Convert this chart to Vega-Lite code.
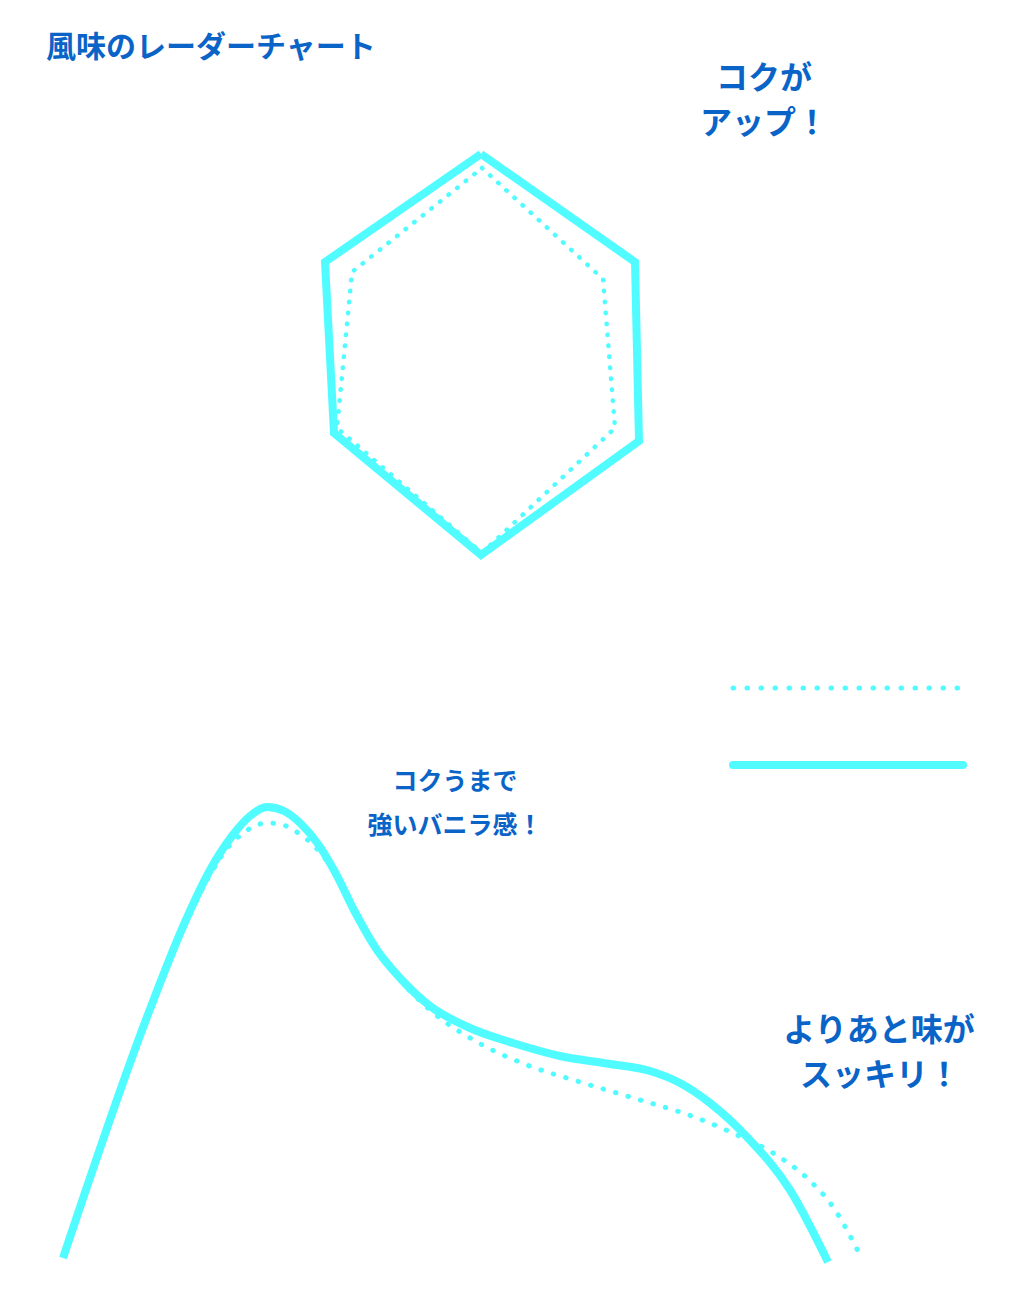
{
  "$schema": "https://vega.github.io/schema/vega-lite/v6.json",
  "width": 1014,
  "height": 1316,
  "autosize": {"type": "fit", "contains": "padding"},
  "padding": 0,
  "background": "white",
  "config": {"view": {"stroke": null}},
  "encoding": {
    "x": {"field": "x", "type": "quantitative", "scale": {"domain": [0, 1014], "nice": false, "zero": false}, "axis": null},
    "y": {"field": "y", "type": "quantitative", "scale": {"domain": [0, 1316], "nice": false, "zero": false, "reverse": true}, "axis": null}
  },
  "layer": [
    {
      "data": {"values": [
        {"i": 0, "x": 481, "y": 154},
        {"i": 1, "x": 635, "y": 262},
        {"i": 2, "x": 639, "y": 441},
        {"i": 3, "x": 481, "y": 555},
        {"i": 4, "x": 334, "y": 433},
        {"i": 5, "x": 325, "y": 262},
        {"i": 6, "x": 481, "y": 154}
      ]},
      "mark": {"type": "line", "color": "#50fcff", "strokeWidth": 8, "strokeJoin": "miter"},
      "encoding": {"order": {"field": "i", "type": "quantitative"}}
    },
    {
      "data": {"values": [
        {"i": 0, "x": 482, "y": 168},
        {"i": 1, "x": 603, "y": 279},
        {"i": 2, "x": 615, "y": 428},
        {"i": 3, "x": 482, "y": 553},
        {"i": 4, "x": 337, "y": 428},
        {"i": 5, "x": 352, "y": 272},
        {"i": 6, "x": 482, "y": 168}
      ]},
      "mark": {"type": "line", "color": "#50fcff", "strokeWidth": 4.5, "strokeCap": "round", "strokeDash": [0.5, 10.5]},
      "encoding": {"order": {"field": "i", "type": "quantitative"}}
    },
    {
      "data": {"values": [
        {"x": 63, "y": 1258},
        {"x": 147, "y": 1017},
        {"x": 185, "y": 922},
        {"x": 210, "y": 870},
        {"x": 232, "y": 836},
        {"x": 250, "y": 816},
        {"x": 267, "y": 807},
        {"x": 284, "y": 811},
        {"x": 301, "y": 824},
        {"x": 318, "y": 844},
        {"x": 335, "y": 872},
        {"x": 355, "y": 912},
        {"x": 377, "y": 950},
        {"x": 400, "y": 978},
        {"x": 430, "y": 1006},
        {"x": 470, "y": 1028},
        {"x": 513, "y": 1043},
        {"x": 560, "y": 1056},
        {"x": 610, "y": 1064},
        {"x": 650, "y": 1071},
        {"x": 680, "y": 1083},
        {"x": 710, "y": 1103},
        {"x": 747, "y": 1137},
        {"x": 790, "y": 1190},
        {"x": 828, "y": 1262}
      ]},
      "mark": {"type": "line", "color": "#50fcff", "strokeWidth": 8, "interpolate": "monotone"}
    },
    {
      "data": {"values": [
        {"x": 185, "y": 926},
        {"x": 205, "y": 884},
        {"x": 226, "y": 850},
        {"x": 246, "y": 831},
        {"x": 257, "y": 825},
        {"x": 267, "y": 823},
        {"x": 280, "y": 824},
        {"x": 295, "y": 831},
        {"x": 318, "y": 850},
        {"x": 338, "y": 878},
        {"x": 358, "y": 916},
        {"x": 378, "y": 952},
        {"x": 400, "y": 980},
        {"x": 430, "y": 1010},
        {"x": 477, "y": 1042},
        {"x": 527, "y": 1065},
        {"x": 580, "y": 1082},
        {"x": 630, "y": 1097},
        {"x": 697, "y": 1118},
        {"x": 735, "y": 1134},
        {"x": 773, "y": 1153},
        {"x": 807, "y": 1178},
        {"x": 833, "y": 1207},
        {"x": 860, "y": 1255}
      ]},
      "mark": {"type": "line", "color": "#50fcff", "strokeWidth": 5, "strokeCap": "round", "strokeDash": [0.5, 12.5], "interpolate": "monotone"}
    },
    {
      "data": {"values": [
        {"x": 733, "y": 688},
        {"x": 959, "y": 688}
      ]},
      "mark": {"type": "line", "color": "#50fcff", "strokeWidth": 5, "strokeCap": "round", "strokeDash": [0.5, 13.5]}
    },
    {
      "data": {"values": [
        {"x": 733, "y": 765},
        {"x": 963, "y": 765}
      ]},
      "mark": {"type": "line", "color": "#50fcff", "strokeWidth": 8, "strokeCap": "round"}
    },
    {
      "data": {"values": [
        {"x": 46, "y": 48, "text": "風味のレーダーチャート"}
      ]},
      "mark": {"type": "text", "align": "left", "baseline": "middle", "font": "Noto Sans CJK JP", "fontWeight": "bold", "fontSize": 30, "color": "#0a64c8"},
      "encoding": {"text": {"field": "text"}}
    },
    {
      "data": {"values": [
        {"x": 764, "y": 79, "text": "コクが"},
        {"x": 764, "y": 124, "text": "アップ！"},
        {"x": 879, "y": 1031, "text": "よりあと味が"},
        {"x": 880, "y": 1076, "text": "スッキリ！"}
      ]},
      "mark": {"type": "text", "align": "center", "baseline": "middle", "font": "Noto Sans CJK JP", "fontWeight": "bold", "fontSize": 32, "color": "#0a64c8"},
      "encoding": {"text": {"field": "text"}}
    },
    {
      "data": {"values": [
        {"x": 455, "y": 782, "text": "コクうまで"},
        {"x": 455, "y": 826, "text": "強いバニラ感！"}
      ]},
      "mark": {"type": "text", "align": "center", "baseline": "middle", "font": "Noto Sans CJK JP", "fontWeight": "bold", "fontSize": 25, "color": "#0a64c8"},
      "encoding": {"text": {"field": "text"}}
    }
  ]
}
